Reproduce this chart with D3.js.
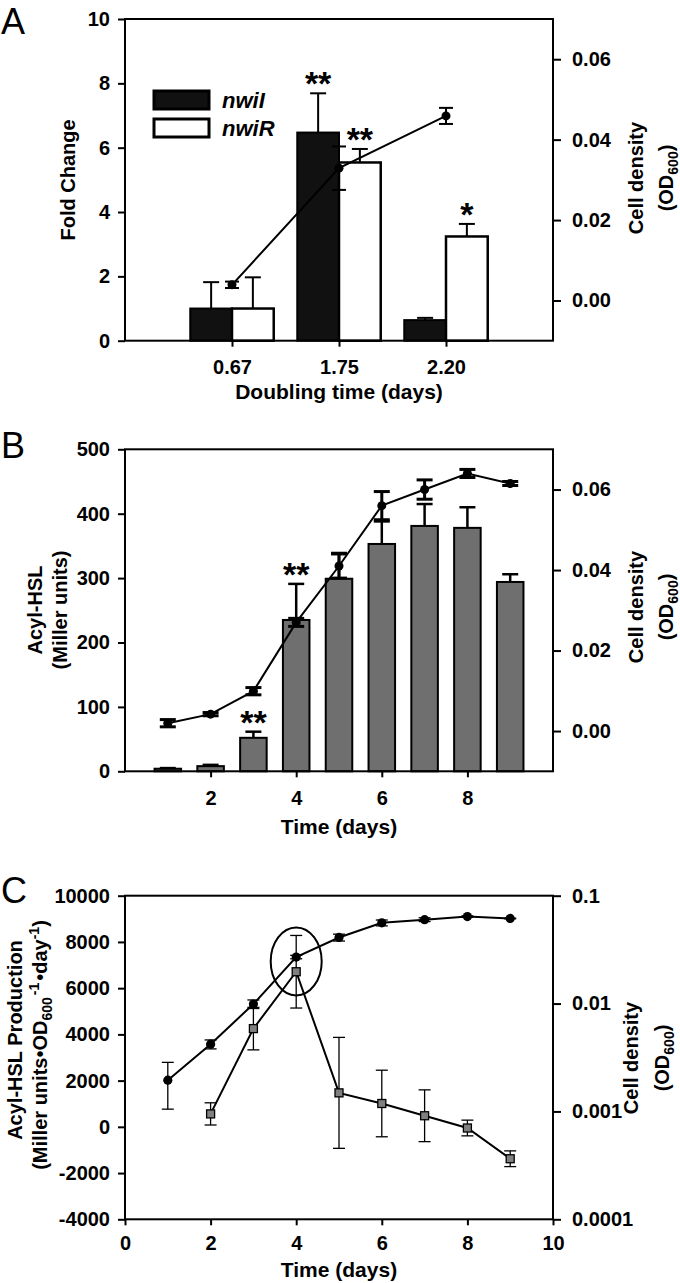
<!DOCTYPE html>
<html>
<head>
<meta charset="utf-8">
<script src="https://cdn.jsdelivr.net/npm/d3@7"></script>
<style>
  body { margin: 0; background: #fff; }
  svg text { font-family: "Liberation Sans", Arial, sans-serif; font-weight: bold; fill: #000; }
</style>
</head>
<body>
<svg id="fig" width="680" height="1283"></svg>
<script>
// ---- panel A: fold change vs doubling time
var doublingTimes = ["0.67", "1.75", "2.20"];
var nwiI = [1.0, 6.47, 0.64],
    nwiIErr = [0.82, 1.22, 0.07];
var nwiR = [1.0, 5.54, 3.24],
    nwiRErr = [0.97, 0.42, 0.39];
var odA = [0.0039, 0.0329, 0.0459],
    odAErr = [0.0008, 0.0054, 0.002];
var starsI = ["", "**", ""],
    starsR = ["", "**", "*"];

// ---- panel B / C: time course
var days = [1, 2, 3, 4, 5, 6, 7, 8, 9];
var acyl = [4, 8, 52, 235, 299, 353, 381, 378, 294],
    acylErr = [1, 2, 9.5, 56, 40, 35, 34, 32, 12];
var starsB = ["", "", "**", "**", "", "", "", "", ""];
var od = [0.00195, 0.0042, 0.0099, 0.027, 0.041, 0.056, 0.060, 0.064, 0.0615],
    odErr = [0.0009, 0.0004, 0.0009, 0.001, 0.003, 0.0035, 0.0024, 0.001, 0.0005];
var prodDays = [2, 3, 4, 5, 6, 7, 8, 9];
var prod = [560, 4250, 6710, 1470, 1010, 480, -50, -1380],
    prodErr = [480, 920, 1570, 2400, 1440, 1120, 340, 340];

var FONT = '"Liberation Sans", Arial, sans-serif';
var svg = d3.select("#fig"),
    LEFT = 125,
    RIGHT = 553;

function styleAxis(g) {
  g.attr("font-size", 20).attr("font-family", FONT).attr("font-weight", "bold");
  g.select(".domain").remove();
  g.selectAll(".tick line").attr("stroke", "#000").attr("stroke-width", 2);
  g.selectAll(".tick text").attr("fill", "#000");
}

function frame(top, bottom) {
  svg.append("rect")
    .attr("x", LEFT).attr("y", top)
    .attr("width", RIGHT - LEFT).attr("height", bottom - top)
    .attr("fill", "none").attr("stroke", "#000").attr("stroke-width", 2);
}

// vertical error bars; pts = [{x, v, e}]
function errBars(g, pts, x, y, capW, sw, both) {
  pts.forEach(function(p) {
    var lo = both ? p.v - p.e : p.v;
    g.append("line")
      .attr("x1", x(p.x)).attr("x2", x(p.x))
      .attr("y1", y(lo)).attr("y2", y(p.v + p.e))
      .attr("stroke", "#000").attr("stroke-width", sw);
    var ends = both ? [p.v + p.e, p.v - p.e] : [p.v + p.e];
    ends.forEach(function(v) {
      g.append("line")
        .attr("x1", x(p.x) - capW / 2).attr("x2", x(p.x) + capW / 2)
        .attr("y1", y(v)).attr("y2", y(v))
        .attr("stroke", "#000").attr("stroke-width", sw);
    });
  });
}

function panelLetter(t, y) {
  svg.append("text").attr("x", 1).attr("y", y)
    .style("font-weight", "normal").attr("font-size", 36).text(t);
}

function vText(x, y, size) {
  return svg.append("text")
    .attr("transform", "translate(" + x + "," + y + ") rotate(-90)")
    .attr("text-anchor", "middle").attr("font-size", size || 20);
}

function odLabel(x1, x2, y) {
  vText(x1, y).text("Cell density");
  var t = vText(x2, y);
  t.append("tspan").text("(OD");
  t.append("tspan").attr("font-size", 14).attr("dy", 5).text("600");
  t.append("tspan").attr("dy", -5).text(")");
}

function xLabel(text, y) {
  svg.append("text").attr("x", (LEFT + RIGHT) / 2).attr("y", y)
    .attr("text-anchor", "middle").attr("font-size", 21).text(text);
}

function stars(g, x, y, str) {
  g.append("text").attr("x", x).attr("y", y + 2)
    .attr("text-anchor", "middle").attr("font-size", 34).text(str);
}

// ================= Panel A =================
var A = { top: 19, bottom: 340.7 };
var xA = d3.scaleLinear().domain([0, 4]).range([LEFT, RIGHT]),
    yA = d3.scaleLinear().domain([0, 10]).range([A.bottom, A.top]),
    yA2 = d3.scaleLinear().domain([-0.01, 0.07]).range([A.bottom, A.top]);
var barW = 0.39;
var gA = svg.append("g");

var barsI = doublingTimes.map(function(d, i) { return { x: i + 1 - barW / 2, v: nwiI[i], e: nwiIErr[i], s: starsI[i] }; });
var barsR = doublingTimes.map(function(d, i) { return { x: i + 1 + barW / 2, v: nwiR[i], e: nwiRErr[i], s: starsR[i] }; });

gA.selectAll(".barI").data(barsI).enter().append("rect")
  .attr("x", function(d) { return xA(d.x - barW / 2); })
  .attr("width", xA(barW) - xA(0))
  .attr("y", function(d) { return yA(d.v); })
  .attr("height", function(d) { return yA(0) - yA(d.v); })
  .attr("fill", "#111").attr("stroke", "#000").attr("stroke-width", 2);
gA.selectAll(".barR").data(barsR).enter().append("rect")
  .attr("x", function(d) { return xA(d.x - barW / 2); })
  .attr("width", xA(barW) - xA(0))
  .attr("y", function(d) { return yA(d.v); })
  .attr("height", function(d) { return yA(0) - yA(d.v); })
  .attr("fill", "#fff").attr("stroke", "#000").attr("stroke-width", 2.5);
errBars(gA, barsI, xA, yA, 16, 2, false);
errBars(gA, barsR, xA, yA, 16, 2, false);
barsI.concat(barsR).forEach(function(d) {
  if (d.s) stars(gA, xA(d.x), yA(d.v + d.e), d.s);
});

var odPtsA = doublingTimes.map(function(d, i) { return { x: i + 1, v: odA[i], e: odAErr[i] }; });
gA.append("path")
  .attr("d", d3.line().x(function(d) { return xA(d.x); }).y(function(d) { return yA2(d.v); })(odPtsA))
  .attr("fill", "none").attr("stroke", "#000").attr("stroke-width", 2);
errBars(gA, odPtsA, xA, yA2, 14, 2, true);
gA.selectAll(".odA").data(odPtsA).enter().append("circle")
  .attr("cx", function(d) { return xA(d.x); })
  .attr("cy", function(d) { return yA2(d.v); })
  .attr("r", 4.5).attr("fill", "#000");

// legend
var legend = [{ name: "nwiI", fill: "#111" }, { name: "nwiR", fill: "#fff" }];
legend.forEach(function(l, i) {
  svg.append("rect").attr("x", 154).attr("y", 91 + i * 28).attr("width", 55).attr("height", 18)
    .attr("fill", l.fill).attr("stroke", "#000").attr("stroke-width", 3);
  svg.append("text").attr("x", 222).attr("y", 108 + i * 28)
    .attr("font-size", 22).style("font-style", "italic").text(l.name);
});

svg.append("g").attr("transform", "translate(" + LEFT + ",0)")
  .call(d3.axisLeft(yA).tickValues([0, 2, 4, 6, 8, 10]).tickSize(7).tickPadding(8))
  .call(styleAxis);
svg.append("g").attr("transform", "translate(" + RIGHT + ",0)")
  .call(d3.axisRight(yA2).tickValues([0, 0.02, 0.04, 0.06]).tickFormat(d3.format(".2f")).tickSize(8).tickPadding(11))
  .call(styleAxis);
svg.append("g").attr("transform", "translate(0," + A.bottom + ")")
  .call(d3.axisBottom(xA).tickValues([1, 2, 3]).tickFormat(function(d) { return doublingTimes[d - 1]; }).tickSize(6).tickPadding(13))
  .call(styleAxis);
frame(A.top, A.bottom);
panelLetter("A", 34);
vText(75, 180).text("Fold Change");
odLabel(643, 673, 178);
xLabel("Doubling time (days)", 399);

// ================= Panel B =================
var B = { top: 449.3, bottom: 771.3 };
var xT = d3.scaleLinear().domain([0, 10]).range([LEFT, RIGHT]),
    yB = d3.scaleLinear().domain([0, 500]).range([B.bottom, B.top]),
    yB2 = d3.scaleLinear().domain([-0.01, 0.07]).range([B.bottom, B.top]);
var bW = 0.62;
var gB = svg.append("g");
var barsB = days.map(function(d, i) { return { x: d, v: acyl[i], e: acylErr[i], s: starsB[i] }; });
gB.selectAll(".barB").data(barsB).enter().append("rect")
  .attr("x", function(d) { return xT(d.x - bW / 2); })
  .attr("width", xT(bW) - xT(0))
  .attr("y", function(d) { return yB(d.v); })
  .attr("height", function(d) { return yB(0) - yB(d.v); })
  .attr("fill", "#6f6f6f").attr("stroke", "#000").attr("stroke-width", 2);
errBars(gB, barsB, xT, yB, 16, 2.5, false);
barsB.forEach(function(d) { if (d.s) stars(gB, xT(d.x), yB(d.v + d.e), d.s); });

var odPts = days.map(function(d, i) { return { x: d, v: od[i], e: odErr[i] }; });
gB.append("path")
  .attr("d", d3.line().x(function(d) { return xT(d.x); }).y(function(d) { return yB2(d.v); })(odPts))
  .attr("fill", "none").attr("stroke", "#000").attr("stroke-width", 2);
errBars(gB, odPts, xT, yB2, 16, 3, true);
gB.selectAll(".odB").data(odPts).enter().append("circle")
  .attr("cx", function(d) { return xT(d.x); })
  .attr("cy", function(d) { return yB2(d.v); })
  .attr("r", 4.5).attr("fill", "#000");

svg.append("g").attr("transform", "translate(" + LEFT + ",0)")
  .call(d3.axisLeft(yB).tickValues([0, 100, 200, 300, 400, 500]).tickSize(7).tickPadding(8))
  .call(styleAxis);
svg.append("g").attr("transform", "translate(" + RIGHT + ",0)")
  .call(d3.axisRight(yB2).tickValues([0, 0.02, 0.04, 0.06]).tickFormat(d3.format(".2f")).tickSize(8).tickPadding(11))
  .call(styleAxis);
svg.append("g").attr("transform", "translate(0," + B.bottom + ")")
  .call(d3.axisBottom(xT).tickValues([2, 4, 6, 8]).tickSize(6).tickPadding(14))
  .call(styleAxis);
frame(B.top, B.bottom);
panelLetter("B", 458);
vText(42, 610).text("Acyl-HSL");
vText(67, 610).text("(Miller units)");
odLabel(643, 673, 607);
xLabel("Time (days)", 834);

// ================= Panel C =================
var C = { top: 895.7, bottom: 1219.3 };
var yC = d3.scaleLinear().domain([-4000, 10000]).range([C.bottom, C.top]),
    yC2 = d3.scaleLog().domain([0.0001, 0.1]).range([C.bottom, C.top]);
var gC = svg.append("g");
var prodPts = prodDays.map(function(d, i) { return { x: d, v: prod[i], e: prodErr[i] }; });

errBars(gC, odPts, xT, yC2, 12, 1.3, true);
errBars(gC, prodPts, xT, yC, 12, 1.3, true);
gC.append("path")
  .attr("d", d3.line().x(function(d) { return xT(d.x); }).y(function(d) { return yC2(d.v); })(odPts))
  .attr("fill", "none").attr("stroke", "#000").attr("stroke-width", 2);
gC.append("path")
  .attr("d", d3.line().x(function(d) { return xT(d.x); }).y(function(d) { return yC(d.v); })(prodPts))
  .attr("fill", "none").attr("stroke", "#000").attr("stroke-width", 2);
gC.selectAll(".odC").data(odPts).enter().append("circle")
  .attr("cx", function(d) { return xT(d.x); })
  .attr("cy", function(d) { return yC2(d.v); })
  .attr("r", 4.6).attr("fill", "#000");
gC.selectAll(".sq").data(prodPts).enter().append("rect")
  .attr("x", function(d) { return xT(d.x) - 4; })
  .attr("y", function(d) { return yC(d.v) - 4; })
  .attr("width", 8).attr("height", 8)
  .attr("fill", "#808080").attr("stroke", "#000").attr("stroke-width", 1.3);

// ellipse highlighting day 4
var peak = 3;
gC.append("ellipse")
  .attr("cx", xT(days[peak]))
  .attr("cy", (yC2(od[peak]) + yC(prod[peak - 1])) / 2 - 3)
  .attr("rx", 25.5).attr("ry", 34)
  .attr("fill", "none").attr("stroke", "#000").attr("stroke-width", 2);

svg.append("g").attr("transform", "translate(" + LEFT + ",0)")
  .call(d3.axisLeft(yC).tickValues(d3.range(-4000, 10001, 2000)).tickFormat(function(d) { return String(d); }).tickSize(7).tickPadding(8))
  .call(styleAxis);
svg.append("g").attr("transform", "translate(" + RIGHT + ",0)")
  .call(d3.axisRight(yC2).tickValues([0.0001, 0.001, 0.01, 0.1]).tickFormat(function(d) { return String(+d.toPrecision(1)); }).tickSize(8).tickPadding(11))
  .call(styleAxis);
svg.append("g").attr("transform", "translate(0," + C.bottom + ")")
  .call(d3.axisBottom(xT).tickValues([0, 2, 4, 6, 8, 10]).tickSize(6).tickPadding(11))
  .call(styleAxis);
frame(C.top, C.bottom);
panelLetter("C", 903);

vText(22, 1040).text("Acyl-HSL Production");
var l2 = vText(47, 1045);
l2.append("tspan").text("(Miller units\u2022OD");
l2.append("tspan").attr("font-size", 14).attr("dy", 5).text("600");
l2.append("tspan").attr("font-size", 14).attr("dy", -13).attr("dx", 2).text("-1");
l2.append("tspan").attr("dy", 8).attr("dx", 2).text("\u2022day");
l2.append("tspan").attr("font-size", 14).attr("dy", -8).text("-1");
l2.append("tspan").attr("dy", 8).text(")");
odLabel(638, 669, 1058);
xLabel("Time (days)", 1277);
</script>
</body>
</html>
